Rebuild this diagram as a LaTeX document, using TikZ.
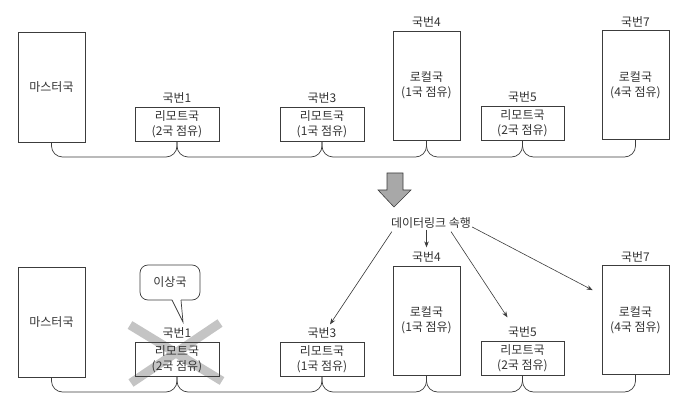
\documentclass[tikz,border=0pt]{standalone}
\usepackage{fontspec}
\setmainfont{Noto Sans CJK KR}
\usetikzlibrary{arrows.meta,positioning}
\definecolor{lc}{HTML}{3C3C3C}
\definecolor{tc}{HTML}{333333}
\definecolor{xc}{HTML}{C4C4C4}
\definecolor{ac}{HTML}{A8A8A8}
\tikzset{
  base/.style={text=tc, font=\fontsize{12}{15}\selectfont, align=center},
  box/.style={base, draw=lc, line width=0.7pt, inner sep=0pt},
  tallbox/.style={box, minimum width=67pt, minimum height=109pt},
  widebox/.style={box, minimum width=84pt, minimum height=34pt},
  lab/.style={base, inner sep=1pt},
  bus/.style={draw=lc, line width=0.7pt, rounded corners=11pt},
  arr/.style={draw=lc, line width=0.6pt, -{Stealth[length=6pt,width=4.5pt]}},
}
\begin{document}
\begin{tikzpicture}[x=1pt,y=-1pt]
\useasboundingbox (0,0) rectangle (686,414);
% ---------------- top row ----------------
\node[tallbox, minimum height=110pt] (m1) at (51.5,87) {마스터국};
\node[widebox] (b1) at (177,124) {리모트국\\(2국 점유)};
\node[widebox] (b3) at (322,124) {리모트국\\(1국 점유)};
\node[tallbox] (b4) at (426.5,85.5) {로컬국\\(1국 점유)};
\node[widebox, minimum width=83pt] (b5) at (522.5,123) {리모트국\\(2국 점유)};
\node[tallbox] (b7) at (635.5,85) {로컬국\\(4국 점유)};
\node[lab, above=2pt of b1] (l1) {국번1};
\node[lab, above=2pt of b3] (l3) {국번3};
\node[lab, above=2pt of b4] (l4) {국번4};
\node[lab, above=2pt of b5] (l5) {국번5};
\node[lab, above=2pt of b7] (l7) {국번7};
\coordinate (busA) at (0,157);
\draw[bus] (m1.south) -- (m1.south |- busA) -- (b1.south |- busA) -- (b1.south);
\draw[bus] (b1.south) -- (b1.south |- busA) -- (b3.south |- busA) -- (b3.south);
\draw[bus] (b3.south) -- (b3.south |- busA) -- (b4.south |- busA) -- (b4.south);
\draw[bus] (b4.south) -- (b4.south |- busA) -- (b5.south |- busA) -- (b5.south);
\draw[bus] (b5.south) -- (b5.south |- busA) -- (b7.south |- busA) -- (b7.south);
% ---------------- block arrow ----------------
\filldraw[fill=ac, draw=lc, line width=0.6pt]
  (387,173) -- (403,173) -- (403,190) -- (411,190) -- (394,207) -- (378,190) -- (387,190) -- cycle;
% ---------------- bottom row ----------------
% gray cross (behind the failed station)
\draw[xc, line width=9pt] (130,325) -- (222,381);
\draw[xc, line width=9pt] (220,323) -- (131,383);
\begin{scope}[shift={(0,235)}]
\node[tallbox, minimum height=110pt] (m2) at (51.5,87) {마스터국};
\node[widebox] (c1) at (177,124) {리모트국\\(2국 점유)};
\node[widebox] (c3) at (322,124) {리모트국\\(1국 점유)};
\node[tallbox] (c4) at (426.5,85.5) {로컬국\\(1국 점유)};
\node[widebox, minimum width=83pt] (c5) at (522.5,123) {리모트국\\(2국 점유)};
\node[tallbox] (c7) at (635.5,85) {로컬국\\(4국 점유)};
\node[lab, above=2pt of c1] (k1) {국번1};
\node[lab, above=2pt of c3] (k3) {국번3};
\node[lab, above=2pt of c4] (k4) {국번4};
\node[lab, above=2pt of c5] (k5) {국번5};
\node[lab, above=2pt of c7] (k7) {국번7};
\coordinate (busB) at (0,157);
\draw[bus] (m2.south) -- (m2.south |- busB) -- (c1.south |- busB) -- (c1.south);
\draw[bus] (c1.south) -- (c1.south |- busB) -- (c3.south |- busB) -- (c3.south);
\draw[bus] (c3.south) -- (c3.south |- busB) -- (c4.south |- busB) -- (c4.south);
\draw[bus] (c4.south) -- (c4.south |- busB) -- (c5.south |- busB) -- (c5.south);
\draw[bus] (c5.south) -- (c5.south |- busB) -- (c7.south |- busB) -- (c7.south);
\end{scope}
% ---------------- callout ----------------
\node[lab] (warn) at (170,282) {이상국};
\coordinate (tip) at (183,322);
\draw[draw=lc, line width=0.7pt, rounded corners=8pt]
  (181,300) -- (200,300) -- (200,265) -- (140,265) -- (140,300) -- (172,300);
\draw[draw=lc, line width=0.7pt, line join=miter] (172,300) -- (tip) -- (181,300);
% ---------------- data link text and arrows ----------------
\node[lab] (dl) at (431,223) {데이터링크 속행};
\draw[arr] ([xshift=2pt,yshift=-2pt]dl.south west) -- ([xshift=8pt,yshift=2pt]k3.north);
\draw[arr] (dl.south -| k4.north) -- ([yshift=3pt]k4.north);
\draw[arr] ([xshift=20pt,yshift=-2pt]dl.south) -- ([xshift=-15pt,yshift=8pt]k5.north);
\draw[arr] ([yshift=-4pt]dl.east) -- ([xshift=-9pt,yshift=-25pt]c7.north west);
\end{tikzpicture}
\end{document}
